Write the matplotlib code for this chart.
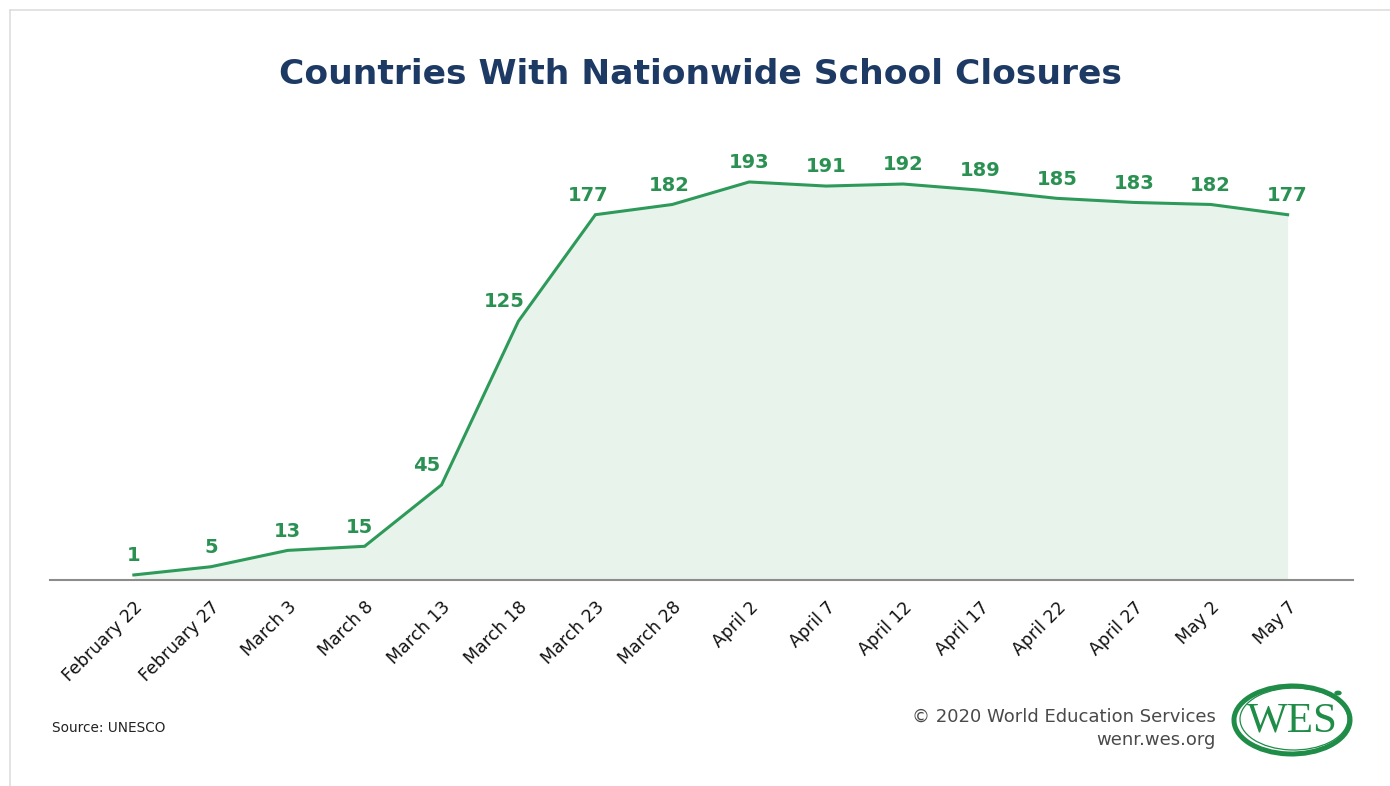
import matplotlib
matplotlib.use("Agg")
import matplotlib.pyplot as plt
from matplotlib.patches import Ellipse, Circle
from matplotlib.lines import Line2D

# data
dates = ["February 22", "February 27", "March 3", "March 8", "March 13",
         "March 18", "March 23", "March 28", "April 2", "April 7",
         "April 12", "April 17", "April 22", "April 27", "May 2", "May 7"]
closures = [1, 5, 13, 15, 45, 125, 177, 182, 193, 191, 192, 189, 185, 183, 182, 177]
# horizontal nudge of value labels (points) where the line climbs steeply
label_dx = [0, 0, 0, -4, -11, -10, -5, -2, 0, 0, 0, 0, 0, 0, 0, 0]

W, H = 1390, 786
line_green = "#2e9a5a"
text_green = "#2a9153"
fill_green = "#e8f3ec"
navy = "#1d3a64"

fig = plt.figure(figsize=(W / 100, H / 100), dpi=100)
fig.patch.set_facecolor("white")

# light frame on the top and left edges
fig.add_artist(Line2D([10 / W, 10 / W], [0, 1 - 10 / H], color="#dedede", lw=1.2))
fig.add_artist(Line2D([10 / W, 1], [1 - 10 / H, 1 - 10 / H], color="#dedede", lw=1.2))

left, right = 50 / W, 1353 / W
bottom, top = 1 - 580 / H, 1 - 140 / H
ax = fig.add_axes([left, bottom, right - left, top - bottom])

x = list(range(len(dates)))
ax.fill_between(x, closures, -5, color=fill_green, lw=0, zorder=1)
ax.plot(x, closures, color=line_green, lw=2.2, zorder=3, solid_joinstyle="miter")

for i, v in enumerate(closures):
    ax.annotate(str(v), (i, v), xytext=(label_dx[i], 7), textcoords="offset points",
                ha="center", va="bottom", color=text_green, fontsize=14,
                fontweight="bold", family="DejaVu Sans", zorder=4)

ax.set_xlim(-1.09, 15.85)
ax.set_ylim(-1.47, 213.5)
for s in ["top", "right", "left"]:
    ax.spines[s].set_visible(False)
ax.spines["bottom"].set_color("#8c8c8c")
ax.spines["bottom"].set_linewidth(1.5)
ax.set_yticks([])
ax.set_xticks(x)
ax.set_xticklabels(dates, rotation=45, ha="right", rotation_mode="anchor",
                   fontsize=12.5, color="#111111", family="DejaVu Sans")
ax.tick_params(axis="x", length=0, pad=13)
ax.patch.set_alpha(0)

fig.text(700 / W, 1 - 74 / H, "Countries With Nationwide School Closures",
         ha="center", va="center", fontsize=24.8, fontweight="bold", color=navy,
         family="DejaVu Sans")

fig.text(52 / W, 1 - 728 / H, "Source: UNESCO", ha="left", va="center",
         fontsize=9.8, color="#222222", family="DejaVu Sans")
fig.text(1216 / W, 1 - 717 / H, "\u00a9 2020 World Education Services", ha="right",
         va="center", fontsize=13, color="#4a4a4a", family="DejaVu Sans")
fig.text(1216 / W, 1 - 740 / H, "wenr.wes.org", ha="right", va="center",
         fontsize=13, color="#4a4a4a", family="DejaVu Sans")

# WES logo
logo_green = "#1f8c48"
cx, cy = 1292 / W, 1 - 720 / H
fig.add_artist(Ellipse((cx, cy), 116 / W, 68 / H, angle=-4, fill=False, ec=logo_green,
                       lw=3.6, transform=fig.transFigure))
fig.add_artist(Ellipse((cx + 2 / W, cy + 1 / H), 108 / W, 62 / H, angle=-4, fill=False,
                       ec=logo_green, lw=0.9, transform=fig.transFigure))
fig.add_artist(Circle((1338 / W, 1 - 693 / H), 3 / W, color=logo_green,
                      transform=fig.transFigure))
fig.text(cx, cy - 1 / H, "WES", ha="center", va="center", fontsize=31, color=logo_green,
         family="Liberation Serif")

fig.savefig("out.png", dpi=100)
